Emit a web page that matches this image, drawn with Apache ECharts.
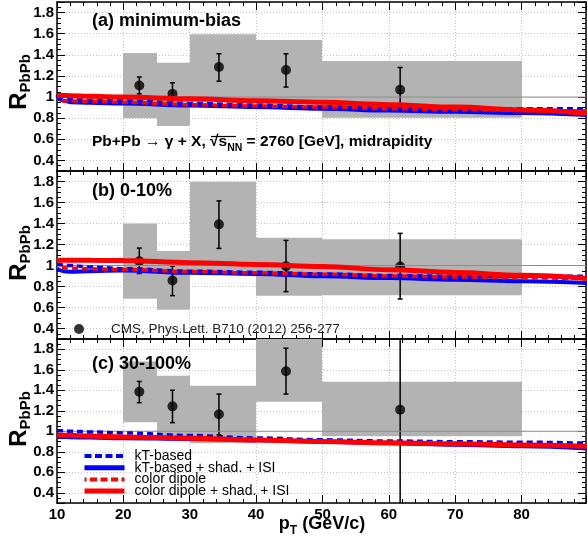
<!DOCTYPE html>
<html><head><meta charset="utf-8">
<script src="https://cdn.jsdelivr.net/npm/echarts@6/dist/echarts.min.js"></script>
<style>html,body{margin:0;padding:0;background:#fff}#c{width:587px;height:541px}</style>
</head><body><div id="c"></div>
<script>
// ---------- data ----------
const xMin = 10, xMax = 89.7;
const yMin = 0.3, yMax = 1.9;
const refValue = 1.0;
const xTickLabels = [10, 20, 30, 40, 50, 60, 70, 80];

const panelLabels = ['(a) minimum-bias', '(b) 0-10%', '(c) 30-100%'];
const modelNames = ['kT-based', 'kT-based + shad. + ISI', 'color dipole', 'color dipole + shad. + ISI'];
const dataName = 'CMS, Phys.Lett. B710 (2012) 256-277';

// model curves (pT grid)
const ptModel = [10, 11, 12, 15, 20, 30, 40, 50, 60, 70, 80, 90];
const ktA      = [0.98, 0.978, 0.975, 0.97, 0.965, 0.94, 0.925, 0.908, 0.895, 0.89, 0.889, 0.889];
const ktShadA  = [1.02, 0.965, 0.952, 0.945, 0.94, 0.92, 0.905, 0.89, 0.872, 0.86, 0.85, 0.83];
const dipA     = [0.965, 0.964, 0.963, 0.96, 0.952, 0.927, 0.915, 0.906, 0.89, 0.88, 0.875, 0.867];
const dipShadA = [1.016, 1.015, 1.013, 1.008, 1.0, 0.984, 0.965, 0.95, 0.928, 0.905, 0.878, 0.845];

const ktB      = [1.01, 1.005, 1.0, 0.985, 0.97, 0.946, 0.935, 0.92, 0.905, 0.898, 0.895, 0.898];
const ktShadB  = [0.97, 0.945, 0.94, 0.945, 0.953, 0.93, 0.92, 0.897, 0.88, 0.865, 0.85, 0.834];
const dipB     = [0.985, 0.98, 0.975, 0.968, 0.962, 0.942, 0.93, 0.917, 0.9, 0.89, 0.882, 0.875];
const dipShadB = [1.05, 1.05, 1.05, 1.049, 1.048, 1.026, 1.01, 0.99, 0.96, 0.933, 0.907, 0.875];

const ktC      = [1.006, 1.004, 1.0, 0.993, 0.984, 0.958, 0.935, 0.916, 0.905, 0.898, 0.893, 0.883];
const ktShadC  = [0.945, 0.944, 0.942, 0.938, 0.932, 0.925, 0.912, 0.898, 0.883, 0.868, 0.854, 0.83];
const dipC     = [0.962, 0.96, 0.958, 0.952, 0.945, 0.932, 0.915, 0.9, 0.887, 0.877, 0.867, 0.854];
const dipShadC = [0.964, 0.962, 0.96, 0.953, 0.945, 0.932, 0.915, 0.9, 0.887, 0.877, 0.867, 0.854];

// CMS data
const binLo = [20, 25, 30, 40, 50];
const binHi = [25, 30, 40, 50, 80];
const ptData = [22.4, 27.4, 34.4, 44.5, 61.7];

const sysLoA = [0.80, 0.725, 0.95, 0.96, 0.804];
const sysHiA = [1.417, 1.325, 1.594, 1.54, 1.341];
const rA     = [1.11, 1.03, 1.284, 1.256, 1.07];
const errLoA = [1.03, 0.93, 1.15, 1.095, 0.88];
const errHiA = [1.19, 1.135, 1.41, 1.41, 1.28];

const sysLoB = [0.684, 0.579, 0.95, 0.713, 0.716];
const sysHiB = [1.40, 1.137, 1.797, 1.265, 1.249];
const rB     = [1.04, 0.857, 1.392, 0.994, 0.99];
const errLoB = [0.924, 0.713, 1.163, 0.751, 0.681];
const errHiB = [1.166, 0.994, 1.615, 1.239, 1.306];

const sysLoC = [1.087, 0.94, 0.883, 1.288, 0.951];
const sysHiC = [1.68, 1.541, 1.444, 2.0, 1.483];
const rC     = [1.385, 1.243, 1.165, 1.586, 1.21];
const errLoC = [1.279, 1.084, 0.964, 1.363, 0.2];
const errHiC = [1.486, 1.40, 1.363, 1.81, 2.0];

// ---------- build ----------
const panels = [
  {models: [ktA, ktShadA, dipA, dipShadA], sysLo: sysLoA, sysHi: sysHiA, r: rA, lo: errLoA, hi: errHiA},
  {models: [ktB, ktShadB, dipB, dipShadB], sysLo: sysLoB, sysHi: sysHiB, r: rB, lo: errLoB, hi: errHiB},
  {models: [ktC, ktShadC, dipC, dipShadC], sysLo: sysLoC, sysHi: sysHiC, r: rC, lo: errLoC, hi: errHiC}
];

const FONT = 'Liberation Sans, Arial, Helvetica, sans-serif';
const grids = [
  {left: 57, right: 1, top: 2, height: 169},
  {left: 57, right: 1, top: 171, height: 168},
  {left: 57, right: 1, top: 339, height: 164}
];

const xAxes = [], yAxes = [], series = [];
const axLine = {show: true, onZero: false, lineStyle: {color: '#000', width: 1.5}};
const tick = {show: true, inside: true, length: 8, lineStyle: {color: '#000', width: 1}};

grids.forEach((g, i) => {
  ['bottom', 'top'].forEach(pos => {
    xAxes.push({
      type: 'value', gridIndex: i, position: pos, min: xMin, max: xMax, interval: 10,
      axisLine: axLine, axisTick: tick,
      minorTick: {show: true, splitNumber: 5, length: 4, lineStyle: {color: '#000', width: 1}},
      splitLine: {show: pos === 'bottom', lineStyle: {color: '#c4c4c4', type: [1, 2], width: 1}},
      axisLabel: {show: pos === 'bottom' && i === 2, color: '#000', fontFamily: FONT, fontWeight: 'bold',
        fontSize: 15, margin: 4, showMaxLabel: false,
        formatter: v => xTickLabels.indexOf(v) >= 0 ? String(v) : ''}
    });
  });
  ['left', 'right'].forEach(pos => {
    yAxes.push({
      type: 'value', gridIndex: i, position: pos, min: yMin, max: yMax, splitNumber: 8,
      axisLine: axLine, axisTick: tick,
      minorTick: {show: true, splitNumber: 4, length: 4, lineStyle: {color: '#000', width: 1}},
      splitLine: {show: pos === 'left', lineStyle: {color: '#c4c4c4', type: [1, 2], width: 1}},
      axisLabel: {show: pos === 'left', color: '#000', fontFamily: FONT, fontWeight: 'bold', fontSize: 15,
        margin: 3, showMinLabel: false, showMaxLabel: false,
        formatter: v => Math.abs(v - 1) < 1e-9 ? '1' : v.toFixed(1)}
    });
  });
});

function boxRender(params, api) {
  const p0 = api.coord([api.value(0), api.value(3)]);
  const p1 = api.coord([api.value(1), api.value(2)]);
  const cs = params.coordSys;
  const x0 = Math.round(p0[0]), x1 = Math.round(p1[0]);
  const r = echarts.graphic.clipRectByRect(
    {x: x0, y: p0[1], width: x1 - x0, height: p1[1] - p0[1]},
    {x: cs.x, y: cs.y, width: cs.width, height: cs.height});
  return r && {type: 'rect', shape: r, style: {fill: '#b3b3b3', stroke: null, lineWidth: 0}};
}
function errRender(params, api) {
  const x = api.value(0);
  const pl = api.coord([x, api.value(1)]), ph = api.coord([x, api.value(2)]);
  const cs = params.coordSys;
  const top = Math.max(ph[1], cs.y), bot = Math.min(pl[1], cs.y + cs.height);
  const st = {stroke: '#000', lineWidth: 1.5};
  const ch = [{type: 'line', shape: {x1: pl[0], y1: top, x2: pl[0], y2: bot}, style: st}];
  if (ph[1] >= cs.y) ch.push({type: 'line', shape: {x1: pl[0] - 2.5, y1: ph[1], x2: pl[0] + 2.5, y2: ph[1]}, style: st});
  if (pl[1] <= cs.y + cs.height) ch.push({type: 'line', shape: {x1: pl[0] - 2.5, y1: pl[1], x2: pl[0] + 2.5, y2: pl[1]}, style: st});
  return {type: 'group', children: ch};
}

const modelStyle = [
  {color: '#0000ff', width: 3.5, type: [6, 4], dashOffset: 0},
  {color: '#0000ff', width: 4, type: 'solid'},
  {color: '#ff0000', width: 3.5, type: [6, 4], dashOffset: 5},
  {color: '#ff0000', width: 5, type: 'solid'}
];
const drawOrder = [1, 0, 2, 3];

panels.forEach((p, i) => {
  const ax = {xAxisIndex: 2 * i, yAxisIndex: 2 * i};
  series.push(Object.assign({
    type: 'custom', renderItem: boxRender, silent: true,
    data: binLo.map((b, k) => [b, binHi[k], p.sysLo[k], p.sysHi[k]])
  }, ax));
  series.push(Object.assign({
    type: 'line', silent: true, symbol: 'none', lineStyle: {color: '#8c8c8c', width: 1},
    data: [[xMin, refValue], [xMax, refValue]]
  }, ax));
  drawOrder.forEach(m => {
    const s = modelStyle[m];
    series.push(Object.assign({
      type: 'line', name: modelNames[m], silent: true, symbol: 'none', showSymbol: false,
      smooth: 0.4, smoothMonotone: 'x', color: s.color,
      lineStyle: {color: s.color, width: s.width, type: s.type, dashOffset: s.dashOffset || 0},
      data: ptModel.map((x, k) => [x, p.models[m][k]])
    }, ax));
  });
  series.push(Object.assign({
    type: 'custom', renderItem: errRender, silent: true,
    data: ptData.map((x, k) => [x, p.lo[k], p.hi[k]])
  }, ax));
  series.push(Object.assign({
    type: 'scatter', name: dataName, silent: true, symbol: 'circle', symbolSize: 10,
    itemStyle: {color: '#000'}, data: ptData.map((x, k) => [x, p.r[k]])
  }, ax));
});

const graphics = [];
const labelY = [21, 191, 364];
panelLabels.forEach((t, i) => graphics.push({
  type: 'text', x: 92, y: labelY[i], z: 100,
  style: {text: t, font: 'bold 18px ' + FONT, fill: '#000', textAlign: 'left', align: 'left', textVerticalAlign: 'middle', verticalAlign: 'middle'}
}));
const yTitleY = [82, 253, 419];
yTitleY.forEach(yy => graphics.push({
  type: 'text', x: 20, y: yy, rotation: Math.PI / 2, z: 100,
  style: {text: '{R|R}{s|PbPb}', fill: '#000', textAlign: 'center', align: 'center', textVerticalAlign: 'middle', verticalAlign: 'middle',
    rich: {R: {font: 'bold 24px ' + FONT, lineHeight: 26, verticalAlign: 'top'},
           s: {font: 'bold 15px ' + FONT, lineHeight: 14, verticalAlign: 'bottom'}}}
}));
graphics.push({
  type: 'text', x: 92, y: 144, z: 100,
  style: {text: '{n|Pb+Pb \u2192 \u03b3 + X, \u221a}{n|s}{u|NN}{n| = 2760 [GeV], midrapidity}', fill: '#000',
    textAlign: 'left', align: 'left', textVerticalAlign: 'middle', verticalAlign: 'middle',
    rich: {n: {font: 'bold 15.5px ' + FONT, lineHeight: 20, verticalAlign: 'top'},
           u: {font: 'bold 10.5px ' + FONT, lineHeight: 11, verticalAlign: 'bottom'}}}
});
graphics.push({
  type: 'line', z: 100, shape: {x1: 211, y1: 136.5, x2: 236, y2: 136.5}, style: {stroke: '#000', lineWidth: 1.2}
});
graphics.push({
  type: 'text', x: 322, y: 526, z: 100,
  style: {text: '{p|p}{t|T}{p| (GeV/c)}', fill: '#000', textAlign: 'center', align: 'center', textVerticalAlign: 'middle', verticalAlign: 'middle',
    rich: {p: {font: 'bold 18px ' + FONT, lineHeight: 22, verticalAlign: 'top'},
           t: {font: 'bold 12px ' + FONT, lineHeight: 12, verticalAlign: 'bottom'}}}
});

const legendData = modelNames.map((n, m) => ({
  name: n,
  itemStyle: {opacity: 0},
  lineStyle: {color: modelStyle[m].color, width: m % 2 ? 5 : 4, type: m % 2 ? 'solid' : [7, 3.5]}
}));

const chart = echarts.init(document.getElementById('c'), null, {renderer: 'canvas'});
chart.setOption({
  animation: false,
  backgroundColor: '#fff',
  grid: grids,
  xAxis: xAxes,
  yAxis: yAxes,
  legend: [
    {orient: 'vertical', left: 77, top: 444, itemWidth: 40, itemHeight: 8, itemGap: -2.3, selectedMode: false,
     itemStyle: {opacity: 0},
     textStyle: {fontFamily: FONT, fontSize: 14, color: '#000', lineHeight: 12, padding: [0, 0, 0, 5]},
     data: legendData},
    {left: 69, top: 317, itemWidth: 54, itemHeight: 10, selectedMode: false, icon: 'circle',
     textStyle: {fontFamily: FONT, fontSize: 13.5, color: '#222', lineHeight: 14},
     data: [dataName]}
  ],
  series: series,
  graphic: graphics
});
</script></body></html>
